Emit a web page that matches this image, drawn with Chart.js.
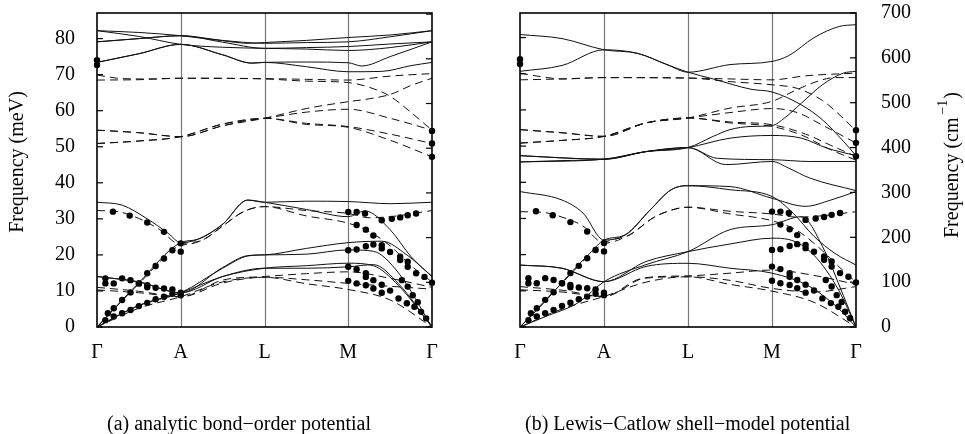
<!DOCTYPE html>
<html>
<head>
<meta charset="utf-8">
<script src="https://cdn.jsdelivr.net/npm/chart.js@4.4.1/dist/chart.umd.min.js"></script>
<style>
  body { margin: 0; background: #fff; width: 965px; height: 434px; overflow: hidden; position: relative; }
  canvas { position: absolute; top: 0; }
</style>
</head>
<body>
<canvas id="left" width="480" height="434" style="left:0"></canvas>
<canvas id="right" width="485" height="434" style="left:480px"></canvas>
<script>
// path labels and axis ticks
const HS_LABELS = ['Γ', 'A', 'L', 'M', 'Γ'];
const MEV_TICKS = [0, 10, 20, 30, 40, 50, 60, 70, 80];
const CM_TICKS = [0, 100, 200, 300, 400, 500, 600, 700];
const MEV_TO_CM = 8.0655;

// (a) bond-order potential, meV, [path position, energy]
const aSolid1 = [[0,82.2],[0.5,81.7],[1,80.8],[1.5,79.4],[1.8,78.7],[2,78.9],[2.5,79.5],[3,80.3],[3.5,81.0],[4,82.2]];
const aSolid2 = [[0,82.2],[0.5,80.6],[1,78.4],[1.5,77.6],[2,77.3],[2.5,77.1],[3,76.7],[3.5,77.5],[4,79.1]];
const aSolid3 = [[0,79.1],[0.5,80.0],[1,80.8],[1.5,79.5],[2,78.7],[2.5,78.9],[3,79.1],[3.5,80.5],[4,82.2]];
const aSolid4 = [[0,73.4],[0.5,75.8],[1,78.4],[1.5,75.5],[1.85,73.2],[2,73.4],[2.5,73.5],[3,73.3],[3.16,72.4],[3.5,75.0],[4,79.1]];
const aSolid5 = [[0,73.4],[0.5,75.8],[1,78.4],[1.5,75.5],[1.85,73.2],[2,73.4],[2.5,72.2],[3,70.8],[3.4,70.9],[3.75,72.5],[4,73.4]];
const aSolid6 = [[0,79.1],[0.5,80.0],[1,80.8],[1.5,79.0],[2,77.3],[2.5,77.5],[3,77.8],[3.5,78.5],[4,79.1]];
const aSolid7 = [[0,34.6],[0.3,33.8],[0.6,30.0],[0.85,26.0],[1,23.4],[1.2,24.3],[1.5,28.5],[1.8,35.2],[2,34.6],[2.5,34.9],[3,34.8],[3.5,34.2],[4,34.6]];
const aSolid8 = [[0,0],[0.5,12.3],[1,23.4],[1.2,24.3],[1.5,28.5],[1.8,35.2],[2,34.6],[2.5,32.6],[3,30.6],[3.2,32.2],[3.5,27.0],[3.75,19.5],[4,14.0]];
const aSolid9 = [[0,14.0],[0.5,12.5],[1,9.5],[1.5,16.5],[1.8,19.8],[2,20.0],[2.5,21.8],[3,23.4],[3.4,23.8],[3.7,20.0],[4,14.0]];
const aSolid10 = [[0,0],[0.5,6.0],[1,9.5],[1.5,14.0],[2,16.3],[2.5,17.0],[3,17.7],[3.3,17.0],[3.6,11.5],[4,0]];
const aSolid11 = [[0,0],[0.5,6.0],[1,9.5],[1.5,16.3],[1.8,19.7],[2,20.0],[2.5,20.2],[3,21.4],[3.3,21.0],[3.6,15.0],[4,0]];
const aSolid12 = [[0,14.0],[0.5,12.5],[1,9.5],[1.5,14.0],[2,16.3],[2.5,16.3],[3,16.7],[3.3,17.3],[3.6,12.0],[4,0]];

const aDash1 = [[0,69.9],[0.3,68.9],[0.6,68.8],[1,69.0],[2,68.9],[2.5,68.7],[3,68.5],[3.5,69.6],[4,70.3]];
const aDash2 = [[0,68.5],[0.5,68.6],[1,69.0],[2,68.8],[2.5,68.2],[3,67.8],[3.25,66.5],[3.5,64.0],[3.75,59.5],[4,54.6]];
const aDash3 = [[0,54.6],[0.5,53.9],[1,52.8],[1.5,55.8],[2,57.9],[2.5,60.6],[3,62.5],[3.25,63.3],[3.5,64.5],[3.75,67.0],[4,69.0]];
const aDash4 = [[0,50.9],[0.5,51.6],[1,52.8],[1.5,56.3],[2,57.9],[2.5,59.6],[3,60.4],[3.5,57.9],[4,54.6]];
const aDash5 = [[0,54.6],[0.5,53.9],[1,52.8],[1.5,55.8],[2,57.9],[2.5,56.5],[3,55.6],[3.5,53.5],[4,50.9]];
const aDash6 = [[0,50.9],[0.5,51.6],[1,52.8],[1.5,56.3],[2,57.9],[2.5,56.2],[3,55.4],[3.5,51.8],[4,47.2]];
const aDash7 = [[0,32.3],[0.25,32.0],[0.5,30.1],[0.75,27.0],[1,22.8],[1.25,24.0],[1.5,28.0],[1.75,32.0],[2,33.4],[2.5,32.3],[3,31.5],[3.25,30.3],[3.5,30.6],[4,32.3]];
const aDash8 = [[0,0],[0.5,12.0],[1,22.8],[1.25,24.0],[1.5,28.0],[1.75,32.0],[2,33.4],[2.5,30.8],[3,28.8],[3.25,26.5],[3.5,22.5],[3.75,17.0],[4,12.5]];
const aDash9 = [[0,11.0],[0.5,9.9],[1,8.4],[1.5,12.2],[2,13.8],[2.5,13.1],[3,12.1],[3.5,11.3],[4,10.5]];
const aDash10 = [[0,10.3],[0.5,9.5],[1,8.4],[1.5,13.0],[2,14.0],[2.5,14.8],[3,15.3],[3.5,13.5],[4,11.0]];
const aDash11 = [[0,0],[0.5,5.2],[1,8.4],[1.5,12.5],[2,13.8],[2.5,12.0],[3,10.4],[3.5,7.5],[4,0]];

// (b) shell-model potential, cm^-1
const bSolid1 = [[0,652],[0.5,643],[1,618],[1.4,610],[1.75,585],[2,568],[2.5,585],[3,592],[3.2,605],[3.5,645],[3.8,670],[4,674]];
const bSolid2 = [[0,570],[0.5,583],[1,618],[1.4,610],[1.75,585],[2,568],[2.3,553],[2.75,530],[3,524],[3.35,495],[3.6,462],[3.85,414],[4,382]];
const bSolid3 = [[0,382],[0.5,377],[1,374],[1.5,391],[2,400],[2.3,425],[2.5,440],[2.75,447],[3,449],[3.15,466],[3.35,499],[3.6,540],[3.85,566],[4,570]];
const bSolid4 = [[0,368],[0.5,371],[1,374],[1.5,391],[2,400],[2.5,421],[3,427],[3.35,421],[3.65,399],[4,382]];
const bSolid5 = [[0,368],[1,374],[1.5,391],[2,400],[2.35,376],[3,373],[3.45,369],[4,369]];
const bSolid6 = [[0,382],[1,374],[1.5,391],[2,400],[2.45,362],[3,369],[3.2,354],[3.45,332],[4,304]];
const bSolid7 = [[0,302],[0.5,283],[0.75,254],[1,194],[1.25,205],[1.55,261],[1.8,306],[2,315],[2.5,313],[3,287],[3.4,269],[3.7,283],[4,302]];
const bSolid8 = [[0,0],[0.28,53],[0.6,120],[0.83,164],[1,194],[1.25,205],[1.55,261],[1.8,306],[2,315],[2.5,306],[3,291],[3.25,254],[3.5,202],[3.75,164],[4,138]];
const bSolid9 = [[0,138],[0.5,131],[1,101],[1.5,146],[2,168],[2.5,185],[3,198],[3.2,195],[3.5,160],[3.8,80],[4,0]];
const bSolid10 = [[0,0],[0.3,23],[0.7,55],[1,101],[1.5,139],[2,168],[2.5,217],[3,228],[3.35,246],[3.6,180],[3.85,70],[4,0]];
const bSolid11 = [[0,138],[0.5,131],[1,101],[1.5,135],[2,142],[2.5,131],[3,120],[3.45,90],[3.8,40],[4,0]];

const bDash1 = [[0,566],[0.25,558],[0.5,553],[1,556],[2,555],[2.5,553],[3,551],[3.4,560],[4,566]];
const bDash2 = [[0,551],[0.5,553],[1,556],[2,555],[2.5,547],[3,540],[3.3,532],[3.6,505],[3.85,465],[4,437]];
const bDash3 = [[0,440],[0.5,433],[1,425],[1.5,455],[2,466],[2.5,488],[3,503],[3.25,525],[3.5,545],[3.75,556],[4,556]];
const bDash4 = [[0,410],[0.5,416],[1,425],[1.5,455],[2,466],[2.5,478],[3,487],[3.3,478],[3.6,450],[4,410]];
const bDash5 = [[0,440],[0.5,433],[1,425],[1.5,455],[2,466],[2.5,457],[3,451],[3.4,430],[3.7,405],[4,380]];
const bDash6 = [[0,410],[0.5,416],[1,425],[1.5,455],[2,466],[2.5,455],[3,447],[3.35,428],[3.7,395],[4,372]];
const bDash7 = [[0,257],[0.25,256],[0.5,245],[0.75,225],[1,187],[1.3,205],[1.6,245],[1.85,263],[2,267],[2.5,258],[3,252],[3.3,245],[3.6,248],[4,257]];
const bDash8 = [[0,0],[0.5,98],[1,187],[1.3,205],[1.6,245],[1.85,263],[2,267],[2.5,252],[3,237],[3.3,215],[3.6,170],[3.85,125],[4,100]];
const bDash9 = [[0,90],[0.5,82],[1,68],[1.45,108],[2,112],[2.5,104],[3,86],[3.5,78],[4,90]];
const bDash10 = [[0,83],[0.5,78],[1,68],[1.5,110],[2,114],[2.5,120],[3,127],[3.5,115],[4,95]];
const bDash11 = [[0,0],[0.5,40],[1,68],[1.5,100],[2,112],[2.5,95],[3,80],[3.5,55],[4,0]];

// measured points (same in both panels), meV
const exptGamma = [[0,74.0],[0,72.7],[4,54.4],[4,50.9],[4,47.2]];
const exptGA = [[0.19,32.0],[0.39,30.9],[0.6,29.0],[0.8,26.4],[1,23.2],[1,20.9],
  [0.13,3.8],[0.2,5.2],[0.3,7.5],[0.4,9.6],[0.5,12.1],[0.6,14.9],[0.7,16.9],[0.8,19.0],[0.9,21.3],
  [0.1,1.9],[0.2,2.9],[0.3,3.8],[0.4,4.7],[0.5,5.8],[0.6,6.7],[0.7,7.7],[0.8,8.4],[0.9,9.2],[1,9.5],[1,8.8],
  [0.1,13.5],[0.1,12.1],[0.2,12.1],[0.3,13.5],[0.4,13.0],[0.5,12.1],[0.6,11.6],[0.6,11.0],[0.7,10.9],[0.8,10.7],[0.9,10.4]];
const exptMG = [[3,31.9],[3.1,31.9],[3.2,31.5],[3.4,29.6],[3.52,30.0],[3.62,30.4],[3.71,31.0],[3.81,31.5],
  [3.1,28.3],[3.21,27.0],[3.3,25.4],
  [3,21.3],[3.1,21.5],[3.21,22.4],[3.3,22.9],[3.4,22.7],[3.4,21.8],[3.5,20.8],[3.62,19.5],[3.62,18.6],[3.71,18.1],[3.71,16.7],[3.81,14.9],[3.91,13.9],[4,12.3],
  [3,16.7],[3.1,16.0],[3.21,14.9],[3.21,13.9],[3.3,13.0],[3.4,11.7],[3,12.8],[3.1,12.1],[3.21,11.6],[3.3,10.7],[3.4,9.5],[3.5,10.1],
  [3.6,7.9],[3.7,6.6],[3.79,5.6],[3.87,4.2],[3.93,2.4],[3.64,13.0],[3.71,11.2],[3.77,8.8],[3.83,6.9]];

Chart.defaults.font.family = "'Liberation Serif', 'Times New Roman', serif";
Chart.defaults.color = '#000';

function lines(branches, dashed) {
  return branches.map(b => ({
    type: 'line',
    data: b.map(([x, y]) => ({ x, y })),
    borderColor: '#111',
    borderWidth: 1,
    borderDash: dashed ? [8, 5] : [],
    pointRadius: 0,
    cubicInterpolationMode: 'monotone',
    fill: false
  }));
}

function dots(factor) {
  return {
    type: 'scatter',
    data: exptGamma.concat(exptGA, exptMG).map(([x, y]) => ({ x, y: y * factor })),
    pointRadius: 3.2,
    pointHoverRadius: 3.2,
    backgroundColor: '#000',
    borderWidth: 0,
    clip: false
  };
}

// frame, symmetry lines, inside ticks, titles
const decor = {
  id: 'decor',
  beforeDatasetsDraw(chart, args, o) {
    const { ctx, chartArea: a, scales: { x, y } } = chart;
    ctx.save();
    ctx.strokeStyle = '#777';
    ctx.lineWidth = 1.2;
    [1, 2, 3].forEach(v => {
      const px = Math.round(x.getPixelForValue(v)) + 0.5;
      ctx.beginPath(); ctx.moveTo(px, a.top); ctx.lineTo(px, a.bottom); ctx.stroke();
    });
    ctx.strokeStyle = '#000';
    ctx.lineWidth = 1.2;
    o.leftTicks.forEach(v => {
      const py = y.getPixelForValue(v);
      ctx.beginPath(); ctx.moveTo(a.left, py); ctx.lineTo(a.left + 6, py); ctx.stroke();
    });
    o.rightTicks.forEach(v => {
      const py = y.getPixelForValue(v);
      ctx.beginPath(); ctx.moveTo(a.right, py); ctx.lineTo(a.right - 6, py); ctx.stroke();
    });
    ctx.lineWidth = 1.6;
    ctx.strokeRect(a.left, a.top, a.right - a.left, a.bottom - a.top);
    ctx.restore();
  },
  afterDraw(chart, args, o) {
    const { ctx } = chart;
    ctx.save();
    ctx.fillStyle = '#000';
    ctx.font = "20px 'Liberation Serif', serif";
    ctx.textAlign = 'left';
    ctx.textBaseline = 'alphabetic';
    ctx.fillText(o.caption, o.capX, 430);
    ctx.translate(o.titleX, o.titleY);
    ctx.rotate(-Math.PI / 2);
    ctx.textBaseline = 'middle';
    const main = o.title, sup = o.sup || '', tail = o.tail || '';
    const wMain = ctx.measureText(main).width;
    const wTail = ctx.measureText(tail).width;
    ctx.font = "14px 'Liberation Serif', serif";
    const wSup = sup ? ctx.measureText(sup).width + 4 : 0;
    let sx = -(wMain + wSup + wTail) / 2;
    ctx.font = "20px 'Liberation Serif', serif";
    ctx.fillText(main, sx, 0);
    sx += wMain;
    if (sup) {
      ctx.font = "14px 'Liberation Serif', serif";
      ctx.fillText(sup, sx + 3, -10);
      sx += wSup;
      ctx.font = "20px 'Liberation Serif', serif";
    }
    ctx.fillText(tail, sx, 0);
    ctx.restore();
  }
};

function xScale() {
  return {
    type: 'linear', min: 0, max: 4,
    afterBuildTicks: s => { s.ticks = [0, 1, 2, 3, 4].map(v => ({ value: v })); },
    ticks: { callback: v => HS_LABELS[v], font: { size: 20 }, padding: 6, autoSkip: false, maxRotation: 0 },
    grid: { display: false },
    border: { display: false },
    afterFit: s => { s.height = 107; s.paddingLeft = 0; s.paddingRight = 0; }
  };
}

function yFit(width) {
  return s => { s.width = width; s.paddingTop = 0; s.paddingBottom = 0; };
}

new Chart(document.getElementById('left'), {
  data: {
    datasets: [
      ...lines([aSolid1, aSolid2, aSolid3, aSolid4, aSolid5, aSolid6, aSolid7, aSolid8, aSolid9, aSolid10, aSolid11, aSolid12], false),
      ...lines([aDash1, aDash2, aDash3, aDash4, aDash5, aDash6, aDash7, aDash8, aDash9, aDash10, aDash11], true),
      dots(1)
    ]
  },
  options: {
    responsive: false,
    animation: false,
    devicePixelRatio: 1,
    layout: { padding: { left: 0, top: 13, right: 48, bottom: 0 } },
    scales: {
      x: xScale(),
      y: {
        type: 'linear', position: 'left', min: 0, max: 87.1,
        afterBuildTicks: s => { s.ticks = MEV_TICKS.map(v => ({ value: v })); },
        ticks: { font: { size: 20 }, padding: 14 },
        grid: { display: false },
        border: { display: false },
        afterFit: yFit(97)
      }
    },
    plugins: {
      legend: { display: false },
      tooltip: { enabled: false },
      decor: {
        leftTicks: MEV_TICKS,
        rightTicks: CM_TICKS.map(v => v / MEV_TO_CM),
        caption: '(a) analytic bond\u2212order potential', capX: 107,
        title: 'Frequency (meV)', titleX: 18, titleY: 162
      }
    }
  },
  plugins: [decor]
});

new Chart(document.getElementById('right'), {
  data: {
    datasets: [
      ...lines([bSolid1, bSolid2, bSolid3, bSolid4, bSolid5, bSolid6, bSolid7, bSolid8, bSolid9, bSolid10, bSolid11], false),
      ...lines([bDash1, bDash2, bDash3, bDash4, bDash5, bDash6, bDash7, bDash8, bDash9, bDash10, bDash11], true),
      dots(MEV_TO_CM)
    ]
  },
  options: {
    responsive: false,
    animation: false,
    devicePixelRatio: 1,
    layout: { padding: { left: 40, top: 13, right: 0, bottom: 0 } },
    scales: {
      x: xScale(),
      y: {
        type: 'linear', position: 'right', min: 0, max: 700,
        afterBuildTicks: s => { s.ticks = CM_TICKS.map(v => ({ value: v })); },
        ticks: { font: { size: 20 }, padding: 17 },
        grid: { display: false },
        border: { display: false },
        afterFit: yFit(109)
      }
    },
    plugins: {
      legend: { display: false },
      tooltip: { enabled: false },
      decor: {
        leftTicks: MEV_TICKS.map(v => v * MEV_TO_CM),
        rightTicks: CM_TICKS,
        caption: '(b) Lewis\u2212Catlow shell\u2212model potential', capX: 45,
        title: 'Frequency (cm', sup: '\u22121', tail: ')', titleX: 473, titleY: 165
      }
    }
  },
  plugins: [decor]
});
</script>
</body>
</html>
